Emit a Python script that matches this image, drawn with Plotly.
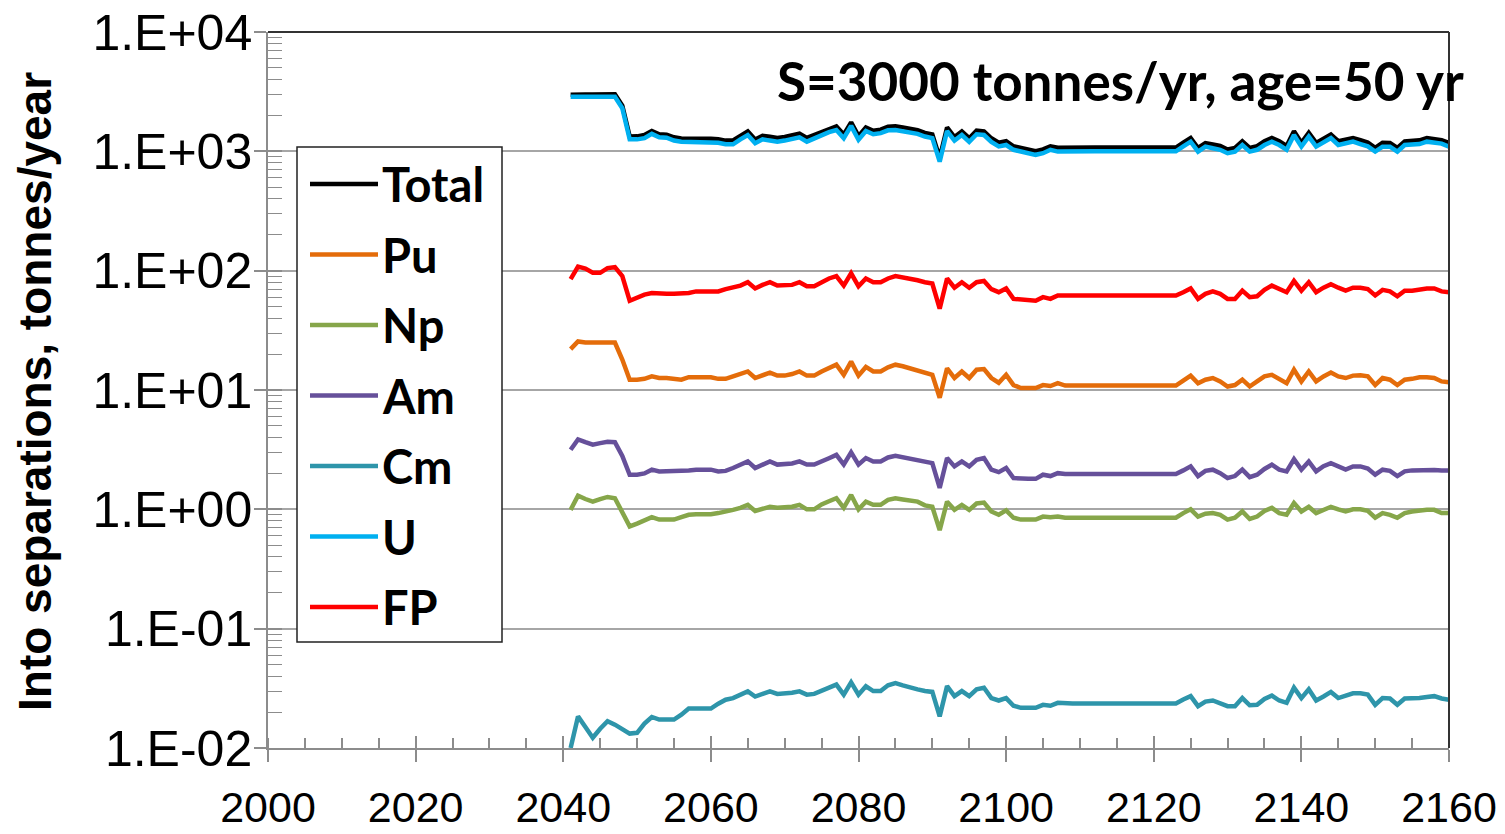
import plotly.graph_objects as go

# ---------------- data ----------------
years = list(range(2041, 2161))

total = [
    2980, 3010, 3000, 3000, 2995, 3005, 3007, 2412, 1331, 1335,
    1368, 1481, 1390, 1380, 1310, 1284, 1286, 1283, 1283, 1273,
    1262, 1230, 1234, 1352, 1468, 1257, 1352, 1328, 1296, 1321,
    1363, 1408, 1295, 1370, 1468, 1555, 1620, 1381, 1751, 1340,
    1586, 1488, 1518, 1605, 1620, 1588, 1544, 1502, 1428, 1384,
    879, 1585, 1318, 1468, 1288, 1489, 1471, 1286, 1180, 1217,
    1102, 1065, 1029, 1004, 1039, 1102, 1071, 1076, 1076, 1076,
    1076, 1076, 1076, 1076, 1076, 1076, 1076, 1076, 1076, 1076,
    1076, 1076, 1076, 1181, 1292, 1067, 1174, 1143, 1109, 1037,
    1067, 1213, 1069, 1106, 1215, 1296, 1215, 1110, 1471, 1178,
    1428, 1176, 1288, 1384, 1218, 1244, 1293, 1238, 1186, 1071,
    1180, 1177, 1070, 1213, 1213, 1236, 1292, 1277, 1242, 1176,
]

pu = [
    22, 25.5, 25, 25, 25, 25, 25, 18, 12.2, 12.2,
    12.4, 13.0, 12.6, 12.6, 12.5, 12.2, 12.8, 12.8, 12.8, 12.8,
    12.4, 12.4, 13.0, 13.6, 14.3, 12.6, 13.3, 14.0, 13.2, 13.2,
    13.6, 14.3, 13.2, 13.2, 14.3, 15.3, 16.3, 13.4, 17.3, 13.2,
    15.6, 14.3, 14.3, 15.5, 16.3, 15.8, 15.2, 14.8, 14.0, 13.4,
    8.6, 15.2, 12.6, 14.3, 12.6, 14.8, 15.0, 12.6, 11.5, 13.4,
    11.0, 10.4, 10.4, 10.4, 11.0, 10.8, 11.4, 10.9, 10.9, 10.9,
    10.9, 10.9, 10.9, 10.9, 10.9, 10.9, 10.9, 10.9, 10.9, 10.9,
    10.9, 10.9, 10.9, 12.0, 13.2, 11.4, 12.2, 12.6, 11.8, 10.7,
    11.0, 12.2, 10.7, 11.8, 13.0, 13.4, 12.2, 11.4, 14.8, 11.8,
    14.3, 11.8, 13.0, 14.0, 13.0, 12.6, 13.2, 13.3, 13.0, 11.0,
    12.6, 12.2, 11.0, 12.2, 12.4, 12.8, 12.8, 12.6, 11.8, 11.6,
]

np_ = [
    0.99, 1.30, 1.22, 1.16, 1.22, 1.27, 1.24, 0.95, 0.72, 0.76,
    0.80, 0.86, 0.82, 0.82, 0.82, 0.86, 0.90, 0.91, 0.91, 0.91,
    0.93, 0.95, 0.99, 1.03, 1.09, 0.97, 1.01, 1.05, 1.03, 1.03,
    1.05, 1.09, 1.00, 1.00, 1.10, 1.17, 1.24, 1.03, 1.32, 1.00,
    1.16, 1.09, 1.09, 1.20, 1.24, 1.21, 1.18, 1.16, 1.08, 1.05,
    0.67, 1.16, 0.99, 1.09, 0.99, 1.12, 1.14, 0.96, 0.90, 0.98,
    0.85, 0.82, 0.82, 0.82, 0.87, 0.86, 0.87, 0.85, 0.85, 0.85,
    0.85, 0.85, 0.85, 0.85, 0.85, 0.85, 0.85, 0.85, 0.85, 0.85,
    0.85, 0.85, 0.85, 0.93, 1.00, 0.87, 0.92, 0.93, 0.90, 0.82,
    0.85, 0.96, 0.83, 0.87, 0.97, 1.03, 0.93, 0.90, 1.13, 0.96,
    1.05, 0.93, 1.00, 1.05, 1.00, 0.96, 1.00, 1.00, 0.97, 0.85,
    0.93, 0.90, 0.85, 0.93, 0.96, 0.98, 0.99, 0.99, 0.93, 0.93,
]

am = [
    3.16, 3.85, 3.65, 3.48, 3.59, 3.68, 3.65, 2.8, 1.95, 1.95,
    2.00, 2.15, 2.08, 2.08, 2.08, 2.08, 2.12, 2.15, 2.15, 2.15,
    2.08, 2.10, 2.22, 2.35, 2.52, 2.22, 2.37, 2.52, 2.37, 2.37,
    2.42, 2.52, 2.37, 2.37, 2.55, 2.68, 2.86, 2.37, 3.00, 2.37,
    2.69, 2.52, 2.52, 2.72, 2.81, 2.72, 2.66, 2.60, 2.50, 2.44,
    1.51, 2.69, 2.29, 2.52, 2.29, 2.60, 2.69, 2.15, 2.05, 2.22,
    1.83, 1.80, 1.80, 1.80, 1.95, 1.90, 2.01, 1.98, 1.98, 1.98,
    1.98, 1.98, 1.98, 1.98, 1.98, 1.98, 1.98, 1.98, 1.98, 1.98,
    1.98, 1.98, 1.98, 2.12, 2.29, 1.90, 2.10, 2.15, 2.01, 1.83,
    1.90, 2.15, 1.86, 1.95, 2.18, 2.37, 2.15, 2.08, 2.63, 2.15,
    2.52, 2.08, 2.30, 2.44, 2.29, 2.15, 2.29, 2.29, 2.20, 1.95,
    2.15, 2.10, 1.90, 2.08, 2.12, 2.14, 2.14, 2.14, 2.12, 2.12,
]

cm = [
    0.0100, 0.0184, 0.0150, 0.0122, 0.0145, 0.0168, 0.0157, 0.0145, 0.0132, 0.0134,
    0.0160, 0.0182, 0.0173, 0.0173, 0.0173, 0.0190, 0.0214, 0.0214, 0.0214, 0.0214,
    0.0235, 0.0254, 0.0262, 0.0280, 0.0298, 0.0270, 0.0285, 0.0298, 0.0284, 0.0284,
    0.0290, 0.0298, 0.0280, 0.0284, 0.0300, 0.0318, 0.0340, 0.0280, 0.0355, 0.0280,
    0.0329, 0.0300, 0.0300, 0.0335, 0.0350, 0.0335, 0.0320, 0.0310, 0.0300, 0.0295,
    0.0184, 0.0330, 0.0272, 0.0300, 0.0272, 0.0310, 0.0320, 0.0262, 0.0250, 0.0262,
    0.0226, 0.0217, 0.0217, 0.0217, 0.0230, 0.0226, 0.0239, 0.0236, 0.0236, 0.0236,
    0.0236, 0.0236, 0.0236, 0.0236, 0.0236, 0.0236, 0.0236, 0.0236, 0.0236, 0.0236,
    0.0236, 0.0236, 0.0236, 0.0255, 0.0272, 0.0224, 0.0245, 0.0250, 0.0239, 0.0224,
    0.0224, 0.0262, 0.0228, 0.0230, 0.0258, 0.0275, 0.0250, 0.0239, 0.0320, 0.0262,
    0.0310, 0.0250, 0.0270, 0.0295, 0.0262, 0.0275, 0.0287, 0.0287, 0.0280, 0.0230,
    0.0262, 0.0260, 0.0230, 0.0260, 0.0260, 0.0262, 0.0268, 0.0272, 0.0260, 0.0254,
]

u = [
    2870, 2870, 2870, 2870, 2870, 2870, 2870, 2300, 1260, 1260,
    1290, 1400, 1310, 1300, 1230, 1205, 1205, 1200, 1200, 1190,
    1180, 1145, 1145, 1260, 1370, 1170, 1260, 1230, 1205, 1230,
    1270, 1310, 1205, 1280, 1370, 1450, 1510, 1290, 1635, 1250,
    1480, 1390, 1420, 1500, 1510, 1480, 1440, 1400, 1330, 1290,
    820, 1480, 1230, 1370, 1200, 1390, 1370, 1200, 1100, 1130,
    1030, 995, 960, 935, 965, 1030, 995, 1000, 1000, 1000,
    1000, 1000, 1000, 1000, 1000, 1000, 1000, 1000, 1000, 1000,
    1000, 1000, 1000, 1100, 1205, 995, 1095, 1060, 1030, 965,
    995, 1130, 995, 1030, 1130, 1205, 1130, 1030, 1370, 1095,
    1330, 1095, 1200, 1290, 1130, 1160, 1205, 1150, 1100, 995,
    1095, 1095, 995, 1130, 1130, 1150, 1205, 1190, 1160, 1095,
]

fp = [
    85, 108, 104, 96, 96, 105, 107, 90, 56, 60,
    63, 65, 64, 64, 64, 64, 65, 67, 67, 67,
    67, 70, 73, 75, 80, 71, 76, 80, 75, 75,
    76, 80, 74, 74, 80, 86, 90, 75, 95, 74,
    86, 80, 80, 86, 90, 88, 85, 83, 80, 78,
    48, 86, 72, 80, 72, 80, 82, 70, 66, 71,
    58, 57, 56, 56, 60, 58, 62, 62, 62, 62,
    62, 62, 62, 62, 62, 62, 62, 62, 62, 62,
    62, 62, 62, 66, 71, 58, 64, 67, 64, 58,
    58, 68, 60, 61, 69, 75, 70, 66, 82, 68,
    80, 66, 72, 77, 72, 68, 72, 72, 70, 62,
    69, 67, 61, 68, 68, 70, 71, 71, 67, 66,
]

series_names = ["Total", "Pu", "Np", "Am", "Cm", "U", "FP"]
series_values = [total, pu, np_, am, cm, u, fp]
series_colors = ["#000000", "#E46C0A", "#86A64A", "#66509A", "#2E95AA", "#00B0F0", "#FF0000"]

x_tickvals = [2000, 2020, 2040, 2060, 2080, 2100, 2120, 2140, 2160]
y_tickvals = [1e-2, 1e-1, 1e0, 1e1, 1e2, 1e3, 1e4]
y_ticktext = ["1.E-02", "1.E-01", "1.E+00", "1.E+01", "1.E+02", "1.E+03", "1.E+04"]

title_text = "S=3000 tonnes/yr, age=50 yr"
y_title = "Into separations, tonnes/year"

# ---------------- layout geometry (pixels) ----------------
W_PX, H_PX = 1505, 834
L, R, T, B = 268, 1449, 32, 748
AX = "#8C8C8C"


def px2x(px):
    return (px - L) / (R - L)


def px2y(py):
    return (B - py) / (B - T)


fig = go.Figure()
for name, vals, col in zip(series_names, series_values, series_colors):
    on_overlay = name == "Cm"
    fig.add_trace(go.Scatter(
        x=years, y=vals, mode="lines", name=name,
        line=dict(color=col, width=4.5),
        showlegend=False,
        xaxis="x2" if on_overlay else "x",
        yaxis="y2" if on_overlay else "y",
    ))

fig.update_layout(
    width=W_PX, height=H_PX,
    margin=dict(l=L, r=W_PX - R, t=T, b=H_PX - B, autoexpand=False),
    plot_bgcolor="white", paper_bgcolor="white",
    xaxis=dict(
        range=[2000, 2160], tickvals=x_tickvals, ticks="outside", ticklen=12,
        tickwidth=1.5, tickcolor=AX, showline=True, linecolor=AX, linewidth=1.5,
        showgrid=False, zeroline=False, ticklabelstandoff=9,
        tickfont=dict(family="Liberation Sans", size=43, color="black"),
        minor=dict(tick0=2000, dtick=5, ticks="inside", ticklen=10,
                   tickwidth=1.5, tickcolor=AX, showgrid=False),
    ),
    yaxis=dict(
        type="log", range=[-2, 4], tickvals=y_tickvals, ticktext=y_ticktext,
        ticks="outside", ticklen=12, tickwidth=1.5, tickcolor=AX,
        showline=True, linecolor=AX, linewidth=1.5,
        showgrid=True, gridcolor="#A6A6A6", gridwidth=1.5, zeroline=False,
        ticklabelstandoff=-8,
        tickfont=dict(family="Liberation Sans", size=50, color="black"),
        minor=dict(dtick="D1", ticks="inside", ticklen=14, tickwidth=1.2,
                   tickcolor=AX, showgrid=False),
    ),
    xaxis2=dict(
        overlaying="x", range=[2000, 2160], tickvals=x_tickvals, ticks="inside",
        ticklen=12, tickwidth=1.5, tickcolor=AX, showticklabels=False,
        showgrid=False, showline=False, zeroline=False,
    ),
    yaxis2=dict(
        overlaying="y", side="left", type="log", range=[-2, 4],
        tickvals=y_tickvals, ticks="inside", ticklen=14, tickwidth=1.5,
        tickcolor=AX, showticklabels=False, showgrid=False, showline=False,
        zeroline=False,
    ),
)

shapes = [
    dict(type="line", xref="paper", yref="paper", x0=0, x1=1, y0=1, y1=1,
         line=dict(color="#333333", width=2), layer="above"),
    dict(type="line", xref="paper", yref="paper", x0=1, x1=1, y0=0, y1=1,
         line=dict(color="#333333", width=2), layer="above"),
    dict(type="rect", xref="paper", yref="paper",
         x0=px2x(297), x1=px2x(502), y0=px2y(642), y1=px2y(147),
         line=dict(color="#222222", width=1.5), fillcolor="white", layer="above"),
]
annotations = [
    dict(text="<b>" + title_text + "</b>", xref="paper", yref="paper",
         x=px2x(1466), y=px2y(80), xanchor="right", yanchor="middle",
         showarrow=False, font=dict(family="Lato", size=53, color="black")),
    dict(text="<b>" + y_title + "</b>", xref="paper", yref="paper",
         x=px2x(35), y=px2y(392), xanchor="center", yanchor="middle",
         textangle=-90, showarrow=False,
         font=dict(family="Liberation Sans", size=46, color="black")),
]
for i, (name, col) in enumerate(zip(series_names, series_colors)):
    yc = 184 + i * 70.5
    shapes.append(dict(type="line", xref="paper", yref="paper",
                       x0=px2x(310), x1=px2x(378), y0=px2y(yc), y1=px2y(yc),
                       line=dict(color=col, width=4.5), layer="above"))
    annotations.append(dict(text="<b>" + name + "</b>", xref="paper", yref="paper",
                            x=px2x(380), y=px2y(yc), xanchor="left", yanchor="middle",
                            showarrow=False,
                            font=dict(family="Lato", size=47, color="black")))

fig.update_layout(shapes=shapes, annotations=annotations)

fig.write_html("out.html", config={"displayModeBar": False},
               post_script="document.body.style.margin='0px';")
